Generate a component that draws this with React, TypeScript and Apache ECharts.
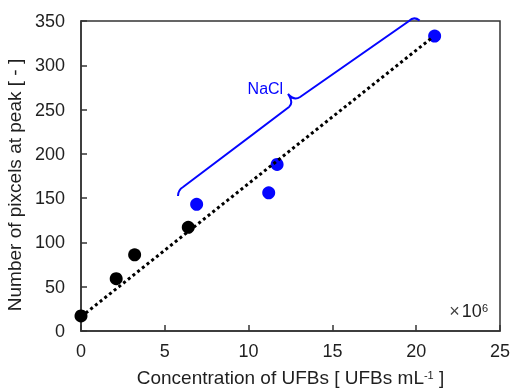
import React, { useEffect, useRef } from "react";
import * as echarts from "echarts";

// ---- data ----
const WATER_X = [0, 2.1, 3.2, 6.4];
const WATER_Y = [17, 59, 86, 117];
const NACL_X = [6.9, 11.2, 11.7, 21.1];
const NACL_Y = [143, 156, 188, 333];
const TREND_X = [0, 21];
const TREND_Y = [16, 332];
const X_MIN = 0, X_MAX = 25, X_STEP = 5;
const Y_MIN = 0, Y_MAX = 350, Y_STEP = 50;
// brace annotation anchor points (data space)
const BRACE_PTS: [number, number][] = [
  [5.79, 152.4], [5.79, 159.2], [6.09, 162.6],
  [12.41, 252.9], [12.71, 257.4], [12.35, 267.6],
  [12.71, 259.7], [13.07, 264.2],
  [19.57, 350.0], [19.87, 355.6], [20.2, 350.5],
];
const NACL_LABEL_POS: [number, number] = [11.0, 274.3];
const NACL_LABEL = "NaCl";
const X_TITLE = "Concentration of UFBs [ UFBs mL{sup|-1} ]";
const Y_TITLE = "Number of pixcels at peak [ - ]";

const FONT = "Liberation Sans";
const BLUE = "#0505ff";
const AXIS = "#333333";
const TEXT = "#1f1f1f";

export default function App() {
  const ref = useRef<HTMLDivElement>(null);
  useEffect(() => {
    if (!ref.current) return;
    const chart = echarts.init(ref.current, undefined, { renderer: "svg" });
    const axisCommon = {
      axisLine: { lineStyle: { color: AXIS, width: 1.5 } },
      axisTick: { inside: true, length: 6, lineStyle: { color: AXIS, width: 1.5 } },
      splitLine: { show: false },
    };
    chart.setOption({
      animation: false,
      textStyle: { fontFamily: FONT },
      grid: {
        left: 81, right: 13, top: 21, bottom: 58,
        containLabel: false, outerBoundsMode: "none",
        show: true, borderColor: AXIS, borderWidth: 1.5,
      },
      xAxis: {
        type: "value", min: X_MIN, max: X_MAX, interval: X_STEP,
        ...axisCommon,
        axisLabel: { margin: 11, fontSize: 18, color: TEXT, fontFamily: FONT },
        name: X_TITLE, nameLocation: "middle", nameGap: 37,
        nameTextStyle: {
          fontSize: 19, color: TEXT, fontFamily: FONT,
          rich: { sup: { fontSize: 11, verticalAlign: "top", padding: [1, 0, 0, 0], color: TEXT, fontFamily: FONT } },
        },
      },
      yAxis: {
        type: "value", min: Y_MIN, max: Y_MAX, interval: Y_STEP,
        ...axisCommon,
        axisLabel: { margin: 16, fontSize: 18, color: TEXT, fontFamily: FONT },
        name: Y_TITLE, nameLocation: "middle", nameGap: 49,
        nameTextStyle: { fontSize: 19, color: TEXT, fontFamily: FONT, padding: [0, 18, 0, 0] },
      },
      series: [
        {
          name: "UFB water", type: "scatter", z: 2, symbolSize: 13,
          itemStyle: { color: "#000000", opacity: 1 },
          data: WATER_X.map((x, i) => [x, WATER_Y[i]]),
        },
        {
          name: "NaCl", type: "scatter", z: 2, symbolSize: 13,
          itemStyle: { color: BLUE, opacity: 1 },
          data: NACL_X.map((x, i) => [x, NACL_Y[i]]),
        },
        {
          name: "Trend", type: "line", z: 3, showSymbol: false, symbol: "none",
          lineStyle: { color: "#000000", width: 3, type: [3, 3] },
          data: TREND_X.map((x, i) => [x, TREND_Y[i]]),
        },
        {
          name: "Brace", type: "custom", z: 4, clip: false, silent: true,
          data: [[0, 0]],
          renderItem: (_p: any, api: any) => {
            const p = BRACE_PTS.map((pt) => api.coord(pt));
            const f = (q: number[]) => q[0].toFixed(1) + " " + q[1].toFixed(1);
            const d =
              `M${f(p[0])} Q${f(p[1])} ${f(p[2])} L${f(p[3])} Q${f(p[4])} ${f(p[5])} ` +
              `Q${f(p[6])} ${f(p[7])} L${f(p[8])} Q${f(p[9])} ${f(p[10])}`;
            const t = api.coord(NACL_LABEL_POS);
            return {
              type: "group",
              children: [
                { type: "path", shape: { pathData: d }, style: { stroke: BLUE, lineWidth: 2, fill: "none" } },
                {
                  type: "text", x: t[0], y: t[1],
                  style: { text: NACL_LABEL, fill: BLUE, fontSize: 16, fontFamily: FONT, align: "center", verticalAlign: "middle" },
                },
              ],
            };
          },
        },
      ],
      graphic: [
        {
          type: "text", right: 25, top: 302,
          style: {
            text: "{x|×}{n|10}{s|6}",
            fill: TEXT,
            rich: {
              x: { fontSize: 18, fontFamily: FONT, fill: "#444", padding: [0, 2, 0, 0] },
              n: { fontSize: 18, fontFamily: FONT, fill: TEXT },
              s: { fontSize: 11, fontFamily: FONT, fill: TEXT, verticalAlign: "top" },
            },
          },
        },
      ],
    });
    return () => chart.dispose();
  }, []);
  return <div ref={ref} style={{ position: "fixed", left: 0, top: 0, width: 513, height: 389 }} />;
}
